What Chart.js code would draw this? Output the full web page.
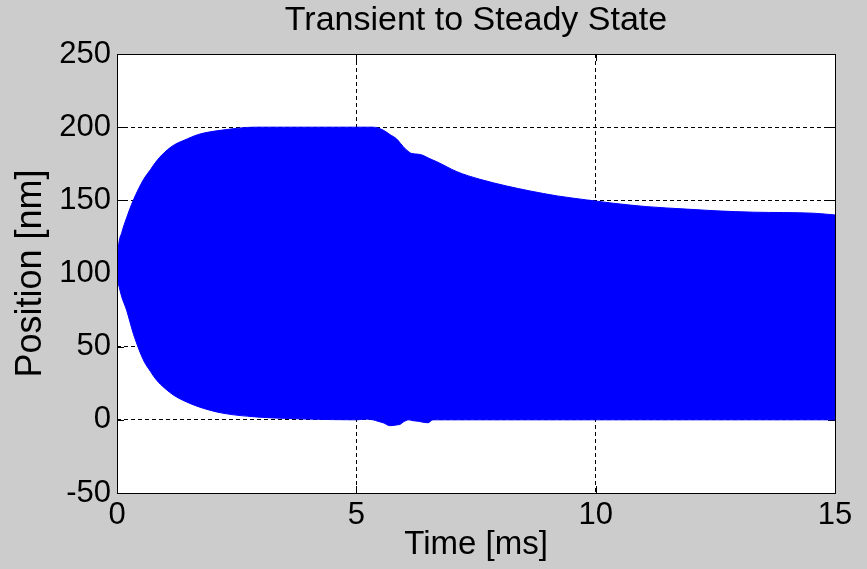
<!DOCTYPE html>
<html>
<head>
<meta charset="utf-8">
<script src="https://cdn.jsdelivr.net/npm/chart.js@4.4.1/dist/chart.umd.min.js"></script>
<style>
  html, body { margin: 0; padding: 0; background: #cccccc; }
</style>
</head>
<body>
<canvas id="myChart" width="867" height="569"></canvas>
<script>
// time axis [ms] for the envelope samples
var timeMs = [0, 0.03, 0.1, 0.2, 0.34, 0.55, 0.7, 0.83, 1.0, 1.2, 1.4, 1.7, 2.2, 2.9, 3.5, 4.0, 5.0, 5.2,
  5.35, 5.45, 5.56, 5.7, 5.84, 5.92, 5.98, 6.1, 6.16, 6.3, 6.37, 6.5, 6.6, 6.68,
  7.1, 7.58, 8.14, 8.63, 9.2, 9.81, 10.37, 11.07, 11.9, 12.53, 13.3, 14.55, 15];

// upper / lower envelope of the oscillation [nm]
var upperNm = [102, 118, 128, 138, 150, 164, 171, 177, 183, 188, 191, 195, 198, 200, 200, 200, 200, 200,
  200, 199.5, 198, 195, 192, 189, 186.7, 183, 182, 181.5, 181, 179, 177.5, 176.4,
  169.6, 164.4, 159.8, 156.4, 153, 150.3, 148, 145.7, 144, 142.8, 141.9, 141.2, 140];
var lowerNm = [98, 93, 84, 75, 59, 41, 33, 27, 21.5, 16.5, 13, 9, 4.6, 2, 1, 0.5, 0, 0.5,
  0, -1, -2, -4, -3.5, -3, -1.5, 0, -0.5, -1, -1.5, -2, 0, 0,
  0, 0, 0, 0, 0, 0, 0, 0, 0, 0, 0, 0, 0];

var xTicks = [0, 5, 10, 15];
var yTicks = [-50, 0, 50, 100, 150, 200, 250];

var FONT = "'Liberation Sans', Arial, sans-serif";

function pts(ys) {
  return timeMs.map(function (t, i) { return { x: t, y: ys[i] }; });
}

// gray figure, white axes, inner tick marks and the box
var matlabFrame = {
  id: 'matlabFrame',
  beforeDraw(chart) {
    var ctx = chart.ctx, a = chart.chartArea;
    ctx.save();
    ctx.fillStyle = '#cccccc';
    ctx.fillRect(0, 0, chart.width, chart.height);
    ctx.fillStyle = '#ffffff';
    ctx.fillRect(a.left, a.top, a.right - a.left, a.bottom - a.top);
    ctx.restore();
  },
  beforeDatasetsDraw(chart) {
    var ctx = chart.ctx, a = chart.chartArea;
    var xs = chart.scales.x, ys = chart.scales.y;
    ctx.save();
    ctx.strokeStyle = '#000';
    ctx.lineWidth = 1;
    ctx.beginPath();
    yTicks.forEach(function (v) {
      var p = Math.round(ys.getPixelForValue(v)) + 0.5;
      ctx.moveTo(a.left, p); ctx.lineTo(a.left + 7, p);
      ctx.moveTo(a.right, p); ctx.lineTo(a.right - 7, p);
    });
    xTicks.forEach(function (v) {
      var p = Math.round(xs.getPixelForValue(v)) + 0.5;
      ctx.moveTo(p, a.bottom); ctx.lineTo(p, a.bottom - 7);
      ctx.moveTo(p, a.top); ctx.lineTo(p, a.top + 7);
    });
    ctx.stroke();
    ctx.restore();
  },
  afterDatasetsDraw(chart) {
    var ctx = chart.ctx, a = chart.chartArea;
    ctx.save();
    ctx.strokeStyle = '#000';
    ctx.lineWidth = 1;
    ctx.strokeRect(Math.round(a.left) + 0.5, Math.round(a.top) + 0.5,
      Math.round(a.right - a.left), Math.round(a.bottom - a.top));
    ctx.restore();
  }
};

var ctx = document.getElementById('myChart');
var myChart = new Chart(ctx, {
  type: 'line',
  data: {
    datasets: [{
      data: pts(upperNm),
      borderColor: '#0000ff',
      backgroundColor: '#0000ff',
      borderWidth: 1,
      pointRadius: 0,
      cubicInterpolationMode: 'monotone',
      fill: '+1'
    }, {
      data: pts(lowerNm),
      borderColor: '#0000ff',
      backgroundColor: '#0000ff',
      borderWidth: 1,
      pointRadius: 0,
      cubicInterpolationMode: 'monotone',
      fill: false
    }]
  },
  options: {
    responsive: false,
    animation: false,
    devicePixelRatio: 1,
    layout: { padding: { left: 0, right: 32, top: 0, bottom: 0 } },
    plugins: {
      legend: { display: false },
      tooltip: { enabled: false },
      title: {
        display: true,
        text: 'Transient to Steady State',
        color: '#000',
        fullSize: false,
        font: { family: FONT, size: 34, weight: 'normal' },
        padding: { top: 0, bottom: 13.2 }
      }
    },
    scales: {
      x: {
        type: 'linear',
        min: 0, max: 15,
        afterFit: function (s) { s.height = 76; },
        afterBuildTicks: function (s) { s.ticks = xTicks.map(function (v) { return { value: v }; }); },
        ticks: { color: '#000', padding: 4, font: { family: FONT, size: 31 } },
        grid: { color: '#000', lineWidth: 1, drawTicks: false },
        border: { display: false, dash: [4, 3] },
        title: {
          display: true, text: 'Time [ms]', color: '#000',
          font: { family: FONT, size: 33 },
          padding: { top: 0, bottom: 4 }
        }
      },
      y: {
        min: -50, max: 250,
        afterFit: function (s) { s.width = 117; },
        afterBuildTicks: function (s) { s.ticks = yTicks.map(function (v) { return { value: v }; }); },
        ticks: { color: '#000', padding: 6, font: { family: FONT, size: 31 } },
        grid: { color: '#000', lineWidth: 1, drawTicks: false },
        border: { display: false, dash: [4, 3] },
        title: {
          display: true, text: 'Position [nm]', color: '#000',
          font: { family: FONT, size: 36 },
          padding: { top: 9, bottom: 0 }
        }
      }
    }
  },
  plugins: [matlabFrame]
});
</script>
</body>
</html>
